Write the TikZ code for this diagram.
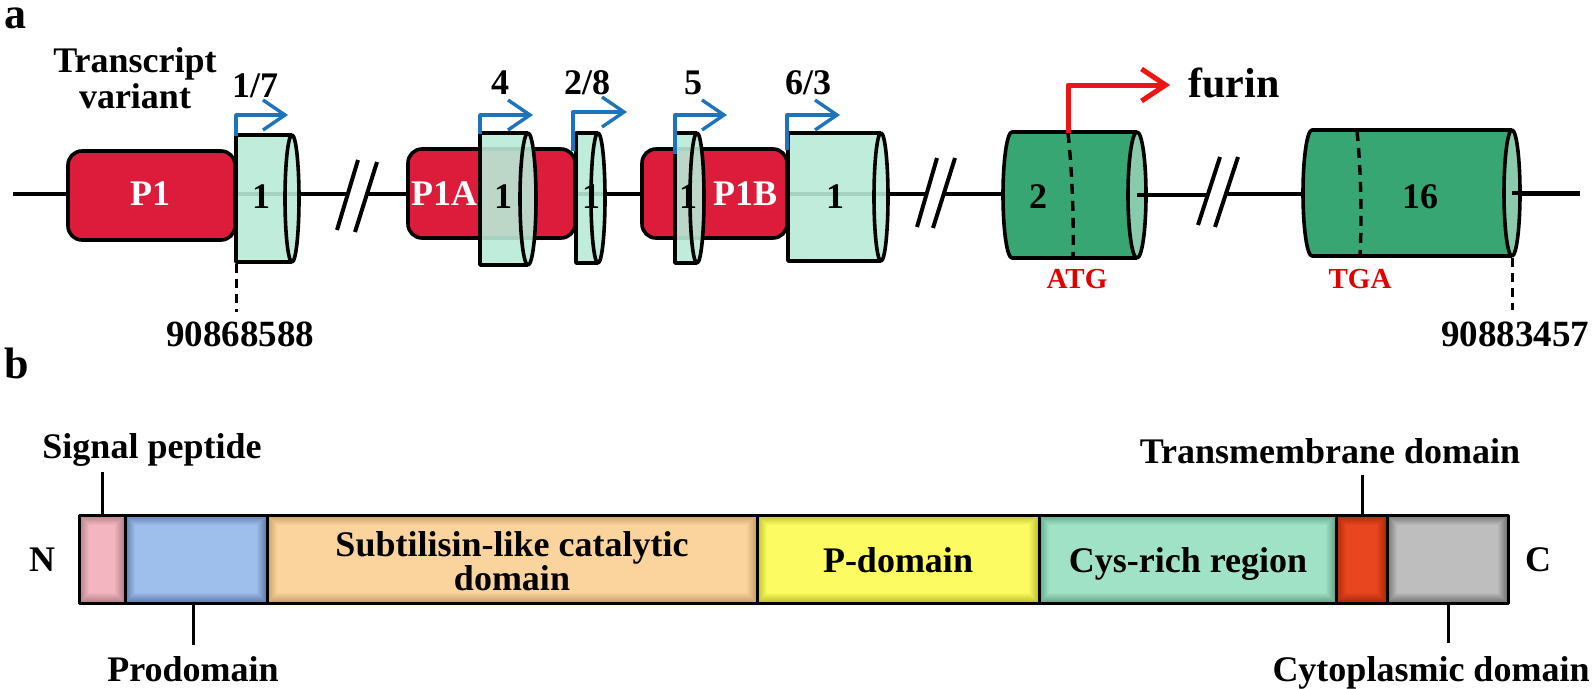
\documentclass[tikz,border=0pt]{standalone}
\usepackage{fontspec}
\setmainfont{Liberation Serif}
\usetikzlibrary{arrows.meta,calc}
\definecolor{cred}{HTML}{DC1C3A}
\definecolor{exl}{HTML}{B9EBD7}
\definecolor{exd}{HTML}{38A673}
\definecolor{exe}{HTML}{8ACBAE}
\definecolor{cblue}{HTML}{1C75BC}
\definecolor{carrred}{HTML}{F01414}
\definecolor{ctxtred}{HTML}{E00000}
\definecolor{sigin}{HTML}{F3B6C0}\definecolor{sigout}{HTML}{B08088}
\definecolor{proin}{HTML}{9EBEEC}\definecolor{proout}{HTML}{607CAA}
\definecolor{subin}{HTML}{FAD49C}\definecolor{subout}{HTML}{C89E68}
\definecolor{pdin}{HTML}{FCFC62}\definecolor{pdout}{HTML}{C0C030}
\definecolor{cysin}{HTML}{A0E2C6}\definecolor{cysout}{HTML}{66A48A}
\definecolor{tmin}{HTML}{E8461E}\definecolor{tmout}{HTML}{A8280C}
\definecolor{cyin}{HTML}{BEBEBE}\definecolor{cyout}{HTML}{747474}
\tikzset{
  lbl/.style={font=\fontsize{36}{40}\selectfont\bfseries, inner sep=0pt, anchor=base},
  big/.style={font=\fontsize{37}{40}\selectfont\bfseries, inner sep=0pt, anchor=base},
  panel/.style={font=\fontsize{44}{48}\selectfont\bfseries, inner sep=0pt, anchor=base},
  wlbl/.style={lbl, text=white},
  rlbl/.style={font=\fontsize{29}{32}\selectfont\bfseries, inner sep=0pt, anchor=base, text=ctxtred},
  bb/.style={line width=4pt},
  ol/.style={draw=black, line width=3.6pt},
  redbox/.style={fill=cred, draw=black, line width=3.6pt, rounded corners=14pt},
  bluearr/.style={draw=cblue, line width=3.4pt, -{Straight Barb[length=22pt,width=30pt]}},
  redarr/.style={draw=carrred, line width=5pt, -{Straight Barb[length=24pt,width=32pt]}},
  innerdash/.style={line width=3.4pt, dash pattern=on 10pt off 7pt},
  markdash/.style={line width=3pt, dash pattern=on 9pt off 6pt},
  tick/.style={line width=3pt}
}
\newcommand{\lexon}[5]{%
  \fill[exl, fill opacity=0.9] (#2,#3) -- (#1,#3) -- (#1,#4) -- (#2,#4) arc[start angle=90, end angle=-90, x radius=#5, y radius={(#4-#3)/2}] -- cycle;
  \draw[ol] (#2,#3) -- (#1,#3) -- (#1,#4) -- (#2,#4);
  \draw[ol] (#2,{(#3+#4)/2}) ellipse [x radius=#5, y radius={(#4-#3)/2}];
}
\newcommand{\dexon}[6]{%
  \filldraw[fill=exd, ol] (#2,#3) -- ({#1+#5},#3) arc[start angle=270, end angle=90, x radius=#5, y radius={(#4-#3)/2}] -- (#2,#4);
  \filldraw[fill=exe, ol] (#2,{(#3+#4)/2}) ellipse [x radius=#6, y radius={(#4-#3)/2}];
}
\newcommand{\dombox}[5]{%
  \fill[#5] (#2,515) rectangle (#3,603);
  \foreach \i [evaluate=\i as \p using \i*10] in {1,...,10}{%
    \fill[#4!\p!#5] ($(#2,515)+(\i,\i)$) rectangle ($(#3,603)-(\i,\i)$);}
  \node[draw, line width=3pt, inner sep=0pt, minimum width={(#3-#2)*1pt}, minimum height=88pt] (#1) at ({(#2+#3)/2},559) {};
}
\begin{document}
\begin{tikzpicture}[x=1pt,y=-1pt,line join=round]
\useasboundingbox (0,0) rectangle (1592,688);

% ---------- panel a ----------
\node[panel] (pa) at (16,28) {a};
\node[lbl] (tv1) at (135,72) {Transcript};
\node[lbl] (tv2) at (135,108) {variant};

% backbone
\draw[bb] (13,194) -- (348,194);
\draw[bb] (367,194) -- (927,194);
\draw[bb] (944,194) -- (1005,194);
\draw[bb] (1226,194) -- (1580,194);
% breaks
\draw[bb] (337,230) -- (358,160);
\draw[bb] (355,232) -- (377,162);
\draw[bb] (917,227) -- (937,158);
\draw[bb] (933,228) -- (955,158);
\draw[bb] (1198,225) -- (1220,157);
\draw[bb] (1215,227) -- (1238,157);

% promoters
\draw[redbox] (68,151) rectangle (235,240);
\draw[redbox] (408,149) rectangle (575,238);
\draw[redbox] (642,149) rectangle (787,238);

% light exons 1
\lexon{236}{292}{135}{262}{7}
\lexon{480}{528}{133}{265}{8}
\lexon{576}{598}{133}{263}{7}
\lexon{675}{697}{133}{263}{7}
\lexon{788}{881}{133}{261}{7}

% dark exons
\dexon{1003}{1137}{132}{258}{9}{9}
\dexon{1303}{1512}{130}{256}{9}{8}
\draw[bb] (1137,195) -- (1208,195);
\draw[bb] (1512,193) -- (1580,193);
\draw[innerdash] (1068,133) .. controls (1072,170) and (1074,220) .. (1073,257);
\draw[innerdash] (1357,131) .. controls (1361,170) and (1362,220) .. (1360,255);

% labels inside
\node[wlbl] (p1) at (150,205) {P1};
\node[wlbl] (p1a) at (444,205) {P1A};
\node[wlbl] (p1b) at (745,205) {P1B};
\node[lbl] (e17) at (261,208) {1};
\node[lbl] (e4) at (503,208) {1};
\node[lbl] (e28) at (591,208) {1};
\node[lbl] (e5) at (688,208) {1};
\node[lbl] (e63) at (835,208) {1};
\node[lbl] (e2) at (1038,208) {2};
\node[lbl] (e16) at (1420,208) {16};

% transcription start arrows
\coordinate (s17) at (236,136); \coordinate (t17) at (288,115);
\coordinate (s4) at (480,134);  \coordinate (t4) at (533,115);
\coordinate (s28) at (573,151); \coordinate (t28) at (627,112);
\coordinate (s5) at (675,154);  \coordinate (t5) at (727,115);
\coordinate (s63) at (787,150); \coordinate (t63) at (840,115);
\draw[bluearr] (s17) |- (t17);
\draw[bluearr] (s4) |- (t4);
\draw[bluearr] (s28) |- (t28);
\draw[bluearr] (s5) |- (t5);
\draw[bluearr] (s63) |- (t63);
\node[lbl] (v17) at (255,97) {1/7};
\node[lbl] (v4) at (500,94) {4};
\node[lbl] (v28) at (587,94) {2/8};
\node[lbl] (v5) at (693,94) {5};
\node[lbl] (v63) at (808,94) {6/3};

% furin arrow
\coordinate (sf) at (1068,133); \coordinate (tf) at (1170,85);
\draw[redarr] (sf) |- (tf);
\node[font=\fontsize{42}{46}\selectfont\bfseries, inner sep=0pt, anchor=base] (furin) at (1234,97) {furin};
\node[rlbl] (atg) at (1077,288) {ATG};
\node[rlbl] (tga) at (1360,288) {TGA};

% coordinates markers
\coordinate (m1a) at (236,264); \coordinate (m1b) at (236,312);
\coordinate (m2a) at (1512,258); \coordinate (m2b) at (1512,310);
\draw[markdash] (m1a) -- (m1b);
\draw[markdash] (m2a) -- (m2b);
\node[big] (c1) at (240,346) {90868588};
\node[big] (c2) at (1515,346) {90883457};

% ---------- panel b ----------
\node[panel] (pb) at (17,378) {b};
\dombox{sig}{79}{125}{sigin}{sigout}
\dombox{pro}{125}{267}{proin}{proout}
\dombox{sub}{267}{757}{subin}{subout}
\dombox{pd}{757}{1039}{pdin}{pdout}
\dombox{cys}{1039}{1336}{cysin}{cysout}
\dombox{tm}{1336}{1387}{tmin}{tmout}
\dombox{cyt}{1387}{1508}{cyin}{cyout}

\node[lbl] (subl1) at (512,556) {Subtilisin-like catalytic};
\node[lbl] (subl2) at (512,590) {domain};
\node[lbl] (pdl) at (898,572) {P-domain};
\node[lbl] (cysl) at (1188,572) {Cys-rich region};
\node[lbl] (nl) at (42,571) {N};
\node[lbl] (cl) at (1538,571) {C};

\node[lbl] (sigl) at (152,458) {Signal peptide};
\node[lbl] (tml) at (1330,463) {Transmembrane domain};
\node[lbl] (prol) at (193,681) {Prodomain};
\node[lbl] (cytl) at (1431,681) {Cytoplasmic domain};
\coordinate (sigt) at (102,472);
\coordinate (tmt) at (1362,475);
\coordinate (prot) at (193,645);
\coordinate (cytt) at (1448,643);
\draw[tick] (sigt |- sig.north) -- (sigt);
\draw[tick] (tmt |- tm.north) -- (tmt);
\draw[tick] (prot |- pro.south) -- (prot);
\draw[tick] (cytt |- cyt.south) -- (cytt);
\end{tikzpicture}
\end{document}
